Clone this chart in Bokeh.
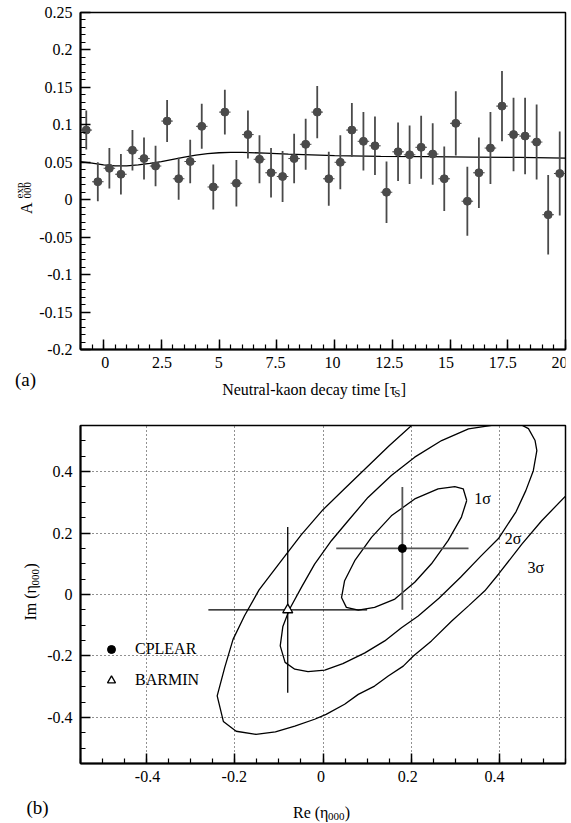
import numpy as np
from math import pi
from bokeh.plotting import figure
from bokeh.models import (ColumnDataSource, FixedTicker, Legend, LegendItem, Range1d,
                          CustomJSTickFormatter)
from bokeh.layouts import column, row
from bokeh.core.properties import value
from bokeh.embed import file_html
from bokeh.resources import INLINE

FONT = "Liberation Serif"

# ---------------- panel (a) data ----------------
decay_time = [-0.75, -0.25, 0.25, 0.75, 1.25, 1.75, 2.25, 2.75, 3.25, 3.75, 4.25, 4.75,
              5.25, 5.75, 6.25, 6.75, 7.25, 7.75, 8.25, 8.75, 9.25, 9.75, 10.25, 10.75,
              11.25, 11.75, 12.25, 12.75, 13.25, 13.75, 14.25, 14.75, 15.25, 15.75, 16.25,
              16.75, 17.25, 17.75, 18.25, 18.75, 19.25, 19.75]
asym = [0.093, 0.024, 0.042, 0.034, 0.066, 0.055, 0.045, 0.105, 0.028, 0.051, 0.098, 0.017,
        0.117, 0.022, 0.087, 0.054, 0.036, 0.031, 0.055, 0.074, 0.117, 0.028, 0.050, 0.093,
        0.078, 0.072, 0.010, 0.064, 0.060, 0.070, 0.061, 0.028, 0.102, -0.002, 0.036,
        0.069, 0.125, 0.087, 0.085, 0.077, -0.020, 0.035]
asym_err = [0.026, 0.026, 0.027, 0.027, 0.027, 0.028, 0.027, 0.028, 0.028, 0.029, 0.030, 0.030,
            0.030, 0.031, 0.032, 0.032, 0.033, 0.034, 0.033, 0.034, 0.035, 0.036, 0.036, 0.036,
            0.039, 0.039, 0.041, 0.039, 0.039, 0.042, 0.041, 0.043, 0.043, 0.046, 0.047,
            0.048, 0.047, 0.049, 0.051, 0.050, 0.053, 0.056]
bin_half_width = 0.25

fit_time = [-1, -0.5, 0, 0.5, 1, 1.5, 2, 2.5, 3, 3.5, 4, 4.5, 5, 5.5, 6, 7, 8, 9, 10,
            12, 14, 16, 18, 20]
fit_asym = [0.0507, 0.049, 0.0465, 0.0452, 0.0452, 0.0465, 0.0485, 0.051, 0.054, 0.057,
            0.0595, 0.0615, 0.0627, 0.0632, 0.0632, 0.0623, 0.061, 0.060, 0.059, 0.058,
            0.0575, 0.057, 0.0565, 0.0555]

a_xticks = [0, 2.5, 5, 7.5, 10, 12.5, 15, 17.5, 20]
a_xtick_labels = ["0", "2.5", "5", "7.5", "10", "12.5", "15", "17.5", "20"]
a_yticks = [-0.2, -0.15, -0.1, -0.05, 0, 0.05, 0.1, 0.15, 0.2, 0.25]
a_ytick_labels = ["-0.2", "-0.15", "-0.1", "-0.05", "0", "0.05", "0.1", "0.15", "0.2", "0.25"]

# ---------------- panel (b) data ----------------
cplear_re, cplear_im, cplear_re_err, cplear_im_err = [0.18], [0.15], [0.15], [0.20]
barmin_re, barmin_im, barmin_re_err, barmin_im_err = [-0.08], [-0.05], [0.18], [0.27]

sig1_re = [0.326, 0.314, 0.284, 0.246, 0.208, 0.163, 0.117, 0.080, 0.053, 0.042, 0.049,
           0.072, 0.110, 0.155, 0.208, 0.261, 0.299, 0.318, 0.326]
sig1_im = [0.306, 0.252, 0.176, 0.100, 0.040, -0.015, -0.042, -0.051, -0.042, -0.010, 0.045,
           0.110, 0.186, 0.256, 0.311, 0.344, 0.351, 0.344, 0.306]

sig2_re = [0.390, 0.330, 0.269, 0.208, 0.155, 0.102, 0.057, 0.019, -0.019, -0.049, -0.076,
           -0.091, -0.097, -0.086, -0.064, -0.034, 0.004, 0.045, 0.095, 0.140, 0.178, 0.216,
           0.263, 0.312, 0.358, 0.398, 0.438, 0.460, 0.477, 0.485, 0.481, 0.466, 0.450, 0.390]
sig2_im = [0.552, 0.539, 0.501, 0.447, 0.387, 0.316, 0.240, 0.175, 0.099, 0.023, -0.048,
           -0.104, -0.167, -0.221, -0.243, -0.251, -0.246, -0.225, -0.190, -0.151, -0.108, -0.070,
           -0.012, 0.056, 0.125, 0.182, 0.270, 0.338, 0.403, 0.468, 0.501, 0.540, 0.552, 0.552]

sig3_re = [0.207, 0.150, 0.100, 0.050, 0.000, -0.049, -0.100, -0.145, -0.178, -0.204, -0.223,
           -0.240, -0.226, -0.197, -0.152, -0.108, -0.064, -0.019, 0.007, 0.049, 0.080, 0.117,
           0.148, 0.182, 0.205, 0.246, 0.292, 0.330, 0.367, 0.398, 0.451, 0.496, 0.560]
sig3_im = [0.558, 0.484, 0.415, 0.346, 0.276, 0.195, 0.100, 0.015, -0.069, -0.146, -0.238,
           -0.330, -0.413, -0.445, -0.455, -0.447, -0.428, -0.406, -0.390, -0.357, -0.325, -0.298,
           -0.265, -0.233, -0.200, -0.151, -0.086, -0.037, 0.012, 0.066, 0.164, 0.240, 0.335]

sigma_text = ["1σ", "2σ", "3σ"]
sigma_text_re = [0.362, 0.431, 0.4825]
sigma_text_im = [0.312, 0.182, 0.087]

b_ticks = [-0.4, -0.2, 0, 0.2, 0.4]
b_tick_labels = ["-0.4", "-0.2", "0", "0.2", "0.4"]

# ---------------- geometry ----------------
LEFT_W = 78          # strip holding y tick labels and y titles
FRAME_L = 80         # page x of both frames' left edge
FRAME_W, FRAME_H_A, FRAME_H_B = 485, 337, 338
TOP_A, TOP_B = 12, 425   # page y of the frames' top edges
A_X, A_Y = (-1, 20), (-0.2, 0.25)
B_X, B_Y = (-0.55, 0.55), (-0.55, 0.55)


def page_x(v, rng):
    return FRAME_L + (v - rng[0]) / (rng[1] - rng[0]) * FRAME_W


def page_y(v, rng, top, h):
    return top + (rng[1] - v) / (rng[1] - rng[0]) * h


def style_axes(p):
    p.background_fill_color = "white"
    p.border_fill_color = "white"
    p.outline_line_color = "black"
    p.outline_line_width = 1.5
    for ax in (p.xaxis[0], p.yaxis[0]):
        ax.axis_line_width = 2
        ax.axis_line_color = "black"
        ax.major_tick_in = 10
        ax.major_tick_out = 0
        ax.minor_tick_in = 5
        ax.minor_tick_out = 0
        ax.major_tick_line_width = 1.5
        ax.minor_tick_line_width = 1.2
        ax.major_tick_line_color = "black"
        ax.minor_tick_line_color = "black"
        # tick labels are written in serif type by the strips below
        ax.major_label_text_color = None
        ax.major_label_standoff = 0
        ax.formatter = CustomJSTickFormatter(code="return '';")


def strip(w, h):
    s = figure(width=w, height=h, output_backend="svg", toolbar_location=None,
               x_range=Range1d(0, w), y_range=Range1d(0, h),
               x_axis_type=None, y_axis_type=None, min_border=0)
    s.grid.visible = False
    s.outline_line_color = None
    s.background_fill_color = "white"
    s.border_fill_color = "white"
    return s


def put(s, left, top, h, px, py, text, size="16px", angle=0.0, align="left",
        baseline="alphabetic"):
    # px, py are page positions; (left, top) is the strip's page corner, h its height
    xs = [v - left for v in np.atleast_1d(px)]
    ys = [h - (v - top) for v in np.atleast_1d(py)]
    texts = list(text) if isinstance(text, (list, tuple)) else [text]
    s.text(x=xs, y=ys, text=texts, angle=angle,
           text_font=value(FONT), text_font_size=value(size), text_color="black",
           text_align=align, text_baseline=baseline)

# ---------------- panel (a) ----------------
p1 = figure(width=493, height=351, output_backend="svg", toolbar_location=None,
            x_range=Range1d(*A_X), y_range=Range1d(*A_Y),
            min_border_left=2, min_border_right=6, min_border_top=12, min_border_bottom=2)
p1.grid.visible = False
style_axes(p1)
p1.xaxis[0].ticker = FixedTicker(ticks=a_xticks, minor_ticks=list(np.arange(-1, 20.01, 0.5)))
p1.yaxis[0].ticker = FixedTicker(ticks=a_yticks,
                                 minor_ticks=[round(v, 2) for v in np.arange(-0.2, 0.2501, 0.01)])

t = np.array(decay_time)
a = np.array(asym)
e = np.array(asym_err)
src_a = ColumnDataSource(dict(t=t, a=a, lo=a - e, hi=a + e,
                              tl=t - bin_half_width, tr=t + bin_half_width))
p1.line(fit_time, fit_asym, line_color="black", line_width=1.3)
p1.segment(x0="t", y0="lo", x1="t", y1="hi", source=src_a, line_color="#4a4a4a", line_width=1.8)
p1.segment(x0="tl", y0="a", x1="tr", y1="a", source=src_a, line_color="#4a4a4a", line_width=1.0)
p1.scatter(x="t", y="a", source=src_a, marker="circle", size=8,
           fill_color="#4a4a4a", line_color="#4a4a4a")

left_a = strip(LEFT_W, 410)
put(left_a, 0, 0, 410, [72] * len(a_yticks),
    [page_y(v, A_Y, TOP_A, FRAME_H_A) for v in a_yticks], a_ytick_labels,
    align="right", baseline="middle")
put(left_a, 0, 0, 410, 25.5, 213.5, "A", angle=pi / 2)
put(left_a, 0, 0, 410, 18, 198, "exp", size="11px", angle=pi / 2)
put(left_a, 0, 0, 410, 27, 198, "000", size="11px", angle=pi / 2)
put(left_a, 0, 0, 410, 25, 379, "(a)", size="19px", align="center", baseline="middle")

bottom_a = strip(493, 59)
put(bottom_a, LEFT_W, 351, 59, [page_x(v, A_X) for v in a_xticks], [362] * len(a_xticks),
    a_xtick_labels, align="center", baseline="middle")
put(bottom_a, LEFT_W, 351, 59, 222, 389, "Neutral-kaon decay time [τ")
put(bottom_a, LEFT_W, 351, 59, 397, 392, "S", size="11px")
put(bottom_a, LEFT_W, 351, 59, 403.5, 389, "]")

# ---------------- panel (b) ----------------
p2 = figure(width=493, height=355, output_backend="svg", toolbar_location=None,
            x_range=Range1d(*B_X), y_range=Range1d(*B_Y),
            min_border_left=2, min_border_right=6, min_border_top=15, min_border_bottom=2)
style_axes(p2)
minor_b = [round(v, 2) for v in np.arange(-0.55, 0.5501, 0.05)]
p2.xaxis[0].ticker = FixedTicker(ticks=b_ticks, minor_ticks=minor_b)
p2.yaxis[0].ticker = FixedTicker(ticks=b_ticks, minor_ticks=minor_b)
for g in (p2.xgrid[0], p2.ygrid[0]):
    g.ticker = FixedTicker(ticks=b_ticks)
    g.grid_line_color = "#222222"
    g.grid_line_dash = "1 3"
    g.grid_line_width = 1

for cre, cim in ((sig1_re, sig1_im), (sig2_re, sig2_im), (sig3_re, sig3_im)):
    p2.line(cre, cim, line_color="black", line_width=1.3)

p2.text(x=sigma_text_re, y=sigma_text_im, text=sigma_text, text_font=value(FONT),
        text_font_size=value("16px"), text_align="center", text_baseline="middle",
        text_color="black")

cr, ci = np.array(cplear_re), np.array(cplear_im)
cre_e, cim_e = np.array(cplear_re_err), np.array(cplear_im_err)
p2.segment(cr - cre_e, ci, cr + cre_e, ci, line_color="#555555", line_width=1.8)
p2.segment(cr, ci - cim_e, cr, ci + cim_e, line_color="#555555", line_width=1.8)

br, bi = np.array(barmin_re), np.array(barmin_im)
bre_e, bim_e = np.array(barmin_re_err), np.array(barmin_im_err)
p2.segment(br - bre_e, bi, br + bre_e, bi, line_color="black", line_width=1.3)
p2.segment(br, bi - bim_e, br, bi + bim_e, line_color="black", line_width=1.3)

r_cplear = p2.scatter(cplear_re, cplear_im, marker="circle", size=8,
                      fill_color="black", line_color="black")
r_barmin = p2.scatter(barmin_re, barmin_im, marker="triangle", size=10,
                      fill_color="white", line_color="black", line_width=1.3)

legend = Legend(items=[LegendItem(label="CPLEAR", renderers=[r_cplear]),
                       LegendItem(label="BARMIN", renderers=[r_barmin])],
                location=(21, 73), orientation="vertical")
legend.label_text_font = FONT
legend.label_text_font_size = "16px"
legend.label_text_color = "black"
legend.glyph_width = 20
legend.glyph_height = 20
legend.label_height = 20
legend.spacing = 11
legend.padding = 0
legend.margin = 0
legend.label_standoff = 14
legend.border_line_color = None
legend.background_fill_alpha = 0
p2.add_layout(legend)

left_b = strip(LEFT_W, 413)
put(left_b, 0, 410, 413, [72] * len(b_ticks),
    [page_y(v, B_Y, TOP_B, FRAME_H_B) for v in b_ticks], b_tick_labels,
    align="right", baseline="middle")
put(left_b, 0, 410, 413, 30, 620, "Im (η", angle=pi / 2)
put(left_b, 0, 410, 413, 34.5, 585, "000", size="11px", angle=pi / 2)
put(left_b, 0, 410, 413, 30, 568, ")", angle=pi / 2)
put(left_b, 0, 410, 413, 37, 807, "(b)", size="19px", align="center", baseline="middle")

bottom_b = strip(493, 58)
put(bottom_b, LEFT_W, 765, 58, [page_x(v, B_X) for v in b_ticks], [775.5] * len(b_ticks),
    b_tick_labels, align="center", baseline="middle")
put(bottom_b, LEFT_W, 765, 58, 294, 812, "Re (η")
put(bottom_b, LEFT_W, 765, 58, 329.5, 816, "000", size="11px")
put(bottom_b, LEFT_W, 765, 58, 346.5, 812, ")")

layout = column(row(left_a, column(p1, bottom_a, spacing=0), spacing=0),
                row(left_b, column(p2, bottom_b, spacing=0), spacing=0), spacing=0)
open("out.html", "w").write(file_html(layout, INLINE))
